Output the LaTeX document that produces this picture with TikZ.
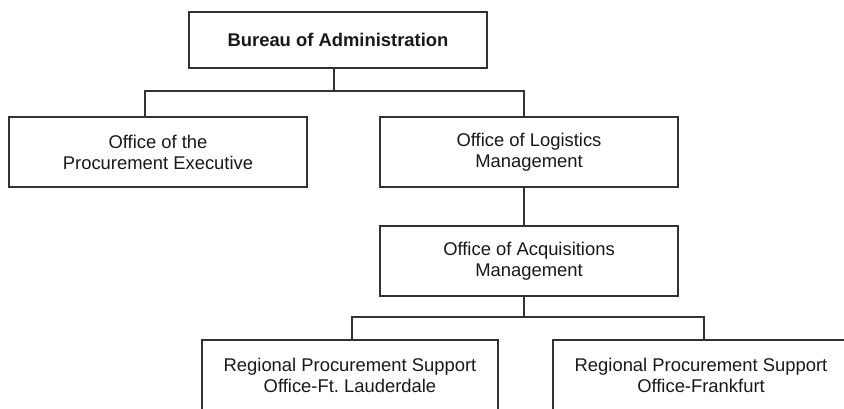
\documentclass[tikz,border=0pt]{standalone}
\usepackage{fontspec}
\setmainfont{Liberation Sans}
\frenchspacing
\begin{document}
\begin{tikzpicture}[x=1pt,y=-1pt,
  box/.style={draw=black!80, line width=1.1pt, rectangle, inner sep=0pt,
    minimum height=70pt, minimum width=298pt, align=center,
    font=\fontsize{18.4}{21}\selectfont, text=black!90},
  link/.style={draw=black!80, line width=1.1pt}]
\useasboundingbox (0,0) rectangle (844,408);
\clip (0,0) rectangle (844,408);
\fill[white] (0,0) rectangle (844,408);
\node[box, minimum height=56pt] (bureau) at (338,40) {\bfseries Bureau of Administration};
\node[box] (proc) at (158,152) {Office of the\\Procurement Executive};
\node[box] (logi) at (529,152) {Office of Logistics\\Management};
\node[box] (acq) at (529,261) {Office of Acquisitions\\Management};
\node[box, minimum width=296pt] (laud) at (350,375) {Regional Procurement Support\\Office-Ft.\ Lauderdale};
\node[box, minimum width=296pt] (frank) at (701,375) {Regional Procurement Support\\Office-Frankfurt};
\coordinate (j1) at (334,91);
\coordinate (j2) at (524,317);
\draw[link] (j1 |- bureau.south) -- (j1);
\draw[link] ([xshift=-13pt]proc.north) |- (j1) -| ([xshift=-5pt]logi.north);
\draw[link] ([xshift=-5pt]logi.south) -- ([xshift=-5pt]acq.north);
\draw[link] ([xshift=-5pt]acq.south) -- (j2);
\draw[link] ([xshift=2pt]laud.north) |- (j2) -| ([xshift=3pt]frank.north);
\end{tikzpicture}
\end{document}
